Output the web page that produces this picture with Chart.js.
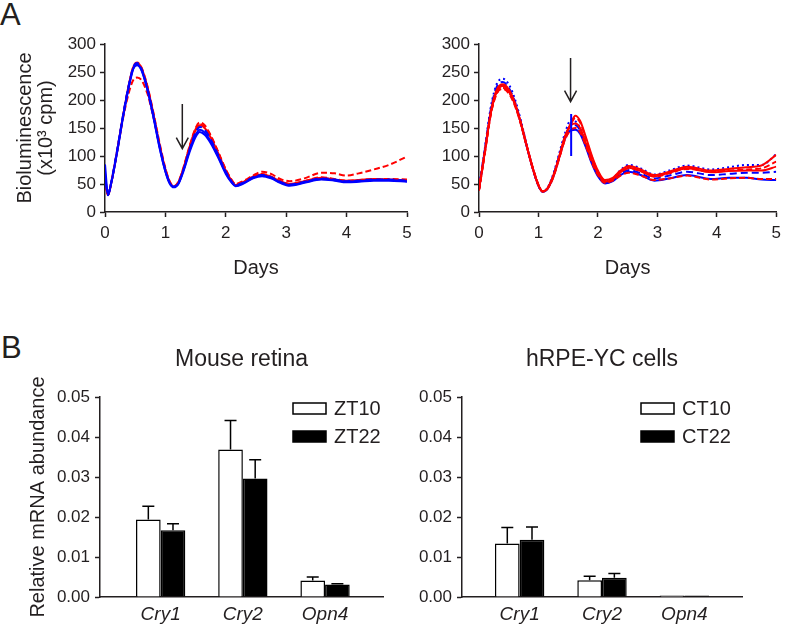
<!DOCTYPE html>
<html lang="en">
<head>
<meta charset="UTF-8" />
<title>Bioluminescence rhythms and Cry mRNA</title>
<script src="https://cdn.jsdelivr.net/npm/chart.js@4"></script>
<style>
  body { margin: 0; background: #fff; }
  #fig { position: relative; width: 787px; height: 626px; overflow: hidden;
         font-family: 'Liberation Sans', Arial, sans-serif; color: #231f20; }
  #fig canvas { position: absolute; }
  .tag { position: absolute; font-size: 31px; line-height: 1; }
</style>
</head>
<body>
<div id="fig">
  <div class="tag" style="left:0px;top:-1px">A</div>
  <div class="tag" style="left:1px;top:332px">B</div>
  <canvas id="bioLeft" width="420" height="290" style="left:0;top:0"></canvas>
  <canvas id="bioRight" width="367" height="290" style="left:420px;top:0"></canvas>
  <canvas id="mrnaRetina" width="400" height="326" style="left:0;top:300px"></canvas>
  <canvas id="mrnaCells" width="387" height="326" style="left:400px;top:300px"></canvas>
</div>

<script>
  // ---- panel A, left: bioluminescence traces (x10^3 cpm) ----
  const daysLeft = [0, 0.05, 0.1, 0.2, 0.3, 0.4, 0.47, 0.53, 0.6, 0.7, 0.8, 0.9, 1.0, 1.07, 1.14, 1.22, 1.3, 1.4, 1.5, 1.57,
                    1.65, 1.75, 1.87, 2.0, 2.1, 2.16, 2.3, 2.45, 2.6, 2.75, 2.9, 3.06, 3.3, 3.58, 3.8, 4.0, 4.2, 4.45, 4.7, 5.0];
  const leftBlue1 = [60, 31, 50, 108, 172, 228, 257, 264, 255, 220, 172, 118, 73, 52, 45, 52, 75, 110, 138, 147,
                     142, 126, 100, 70, 53, 47, 52, 61, 65, 61, 53, 48, 53, 59, 57, 54, 55, 57, 57, 55];
  const leftBlue2 = [85, 32, 50, 106, 170, 226, 256, 262, 254, 219, 170, 116, 72, 51, 44, 51, 73, 107, 134, 143,
                     138, 123, 98, 68, 52, 46, 51, 60, 64, 60, 52, 47, 52, 58, 56, 53, 54, 56, 56, 54];
  const leftBlue3 = [70, 30, 52, 110, 174, 230, 259, 266, 257, 222, 174, 120, 75, 53, 45, 53, 76, 112, 142, 152,
                     147, 130, 103, 72, 54, 48, 53, 62, 66, 62, 54, 49, 54, 60, 58, 55, 56, 58, 58, 56];
  const leftRed1 = [55, 30, 50, 108, 172, 229, 259, 266, 258, 224, 176, 122, 76, 54, 45, 54, 78, 115, 146, 155,
                    150, 133, 106, 74, 55, 48, 54, 63, 67, 63, 55, 50, 55, 61, 58, 56, 57, 59, 58, 57];
  const leftRed2 = [50, 31, 51, 109, 173, 230, 260, 267, 259, 226, 178, 125, 78, 55, 46, 55, 80, 118, 150, 160,
                    155, 137, 108, 75, 56, 48, 54, 63, 68, 63, 55, 50, 55, 62, 59, 56, 57, 59, 59, 58];
  const leftRed3 = [55, 31, 50, 107, 168, 215, 236, 240, 236, 212, 170, 120, 75, 53, 45, 54, 78, 116, 148, 157,
                    152, 136, 108, 76, 57, 50, 56, 65, 72, 68, 59, 55, 60, 70, 69, 65, 69, 76, 84, 99];

  // ---- panel A, right ----
  const daysRight = [0, 0.1, 0.2, 0.3, 0.4, 0.5, 0.6, 0.7, 0.8, 0.9, 1.0, 1.07, 1.15, 1.25, 1.35, 1.45, 1.55, 1.62, 1.7, 1.8,
                     1.9, 2.0, 2.12, 2.25, 2.38, 2.52, 2.7, 2.95, 3.2, 3.5, 3.9, 4.2, 4.5, 4.75, 5.0];
  const rightRed1 = [40, 108, 177, 215, 225, 216, 194, 160, 119, 80, 48, 37, 42, 64, 98, 135, 160, 172, 163, 133,
                     100, 74, 57, 61, 74, 82, 77, 66, 72, 81, 74, 77, 80, 83, 102];
  const rightBlue1 = [42, 115, 188, 229, 238, 228, 203, 165, 121, 80, 47, 36, 43, 68, 105, 142, 165, 162, 150, 120,
                      90, 68, 55, 60, 75, 84, 79, 67, 74, 83, 76, 80, 84, 84, 103];
  const rightRed2 = [38, 106, 175, 212, 222, 214, 193, 160, 120, 81, 49, 37, 41, 62, 96, 132, 158, 168, 160, 130,
                     98, 72, 56, 59, 71, 78, 74, 63, 69, 77, 72, 74, 76, 78, 90];
  const rightRed3 = [40, 110, 180, 219, 228, 219, 196, 161, 119, 79, 47, 36, 42, 65, 100, 136, 155, 158, 150, 122,
                     92, 69, 54, 58, 71, 79, 74, 64, 70, 78, 71, 73, 74, 74, 81];
  const rightBlue2 = [41, 113, 184, 224, 232, 222, 198, 162, 119, 79, 47, 36, 42, 66, 101, 136, 154, 155, 146, 118,
                      89, 66, 52, 56, 68, 75, 70, 60, 65, 72, 66, 68, 70, 70, 72];
  const rightRed4 = [39, 107, 176, 212, 220, 212, 191, 158, 118, 80, 48, 37, 42, 63, 97, 130, 147, 150, 143, 117,
                     88, 66, 52, 56, 65, 70, 66, 57, 60, 65, 58, 60, 61, 59, 59];
  const rightBlue3 = [40, 110, 180, 217, 226, 217, 194, 160, 118, 79, 47, 36, 41, 63, 98, 132, 146, 147, 140, 115,
                      86, 64, 51, 55, 66, 72, 67, 56, 60, 66, 59, 61, 61, 58, 57];
  const markDay = [1.55, 1.55];
  const markLevel = [100, 175];

  const arrowDays = [1.28, 1.54];
  const arrowFrom = [193, 275];
  const arrowTo = [113, 197];

  // ---- panel B: relative mRNA abundance ----
  const genes = ['Cry1', 'Cry2', 'Opn4'];
  const retinaZT10 = [0.0194, 0.0369, 0.0041];
  const retinaZT10Err = [0.0033, 0.0072, 0.0009];
  const retinaZT22 = [0.0167, 0.0296, 0.0031];
  const retinaZT22Err = [0.0016, 0.0047, 0.0002];
  const cellsCT10 = [0.0134, 0.0042, 0.0004];
  const cellsCT10Err = [0.0040, 0.0010, 0];
  const cellsCT22 = [0.0143, 0.0048, 0.0004];
  const cellsCT22Err = [0.0032, 0.0011, 0];

  const INK = '#231f20';
  const FONT = "'Liberation Sans', Arial, sans-serif";
  Chart.defaults.font.family = FONT;
  Chart.defaults.color = INK;
  Chart.defaults.animation = false;

  const RED = '#ff0000', BLUE = '#0000ff';

  // arrow pointing down at the phase shift
  const arrowMark = {
    id: 'arrowMark',
    afterDatasetsDraw(chart, args, opts) {
      const { ctx, scales: { x, y } } = chart;
      const px = x.getPixelForValue(arrowDays[opts.i]);
      const y0 = y.getPixelForValue(arrowFrom[opts.i]);
      const y1 = y.getPixelForValue(arrowTo[opts.i]);
      ctx.save();
      ctx.strokeStyle = INK;
      ctx.lineWidth = 1.5;
      ctx.beginPath();
      ctx.moveTo(px, y0); ctx.lineTo(px, y1);
      ctx.moveTo(px - 6, y1 - 11); ctx.lineTo(px, y1); ctx.lineTo(px + 6, y1 - 11);
      ctx.stroke();
      ctx.restore();
    }
  };

  const errorBars = {
    id: 'errorBars',
    afterDatasetsDraw(chart, args, opts) {
      const { ctx } = chart;
      const y = chart.scales.y;
      chart.data.datasets.forEach((ds, di) => {
        const errs = opts.errors[di];
        chart.getDatasetMeta(di).data.forEach((bar, i) => {
          if (!errs[i]) return;
          const top = y.getPixelForValue(ds.data[i].y + errs[i]);
          ctx.save();
          ctx.strokeStyle = '#000';
          ctx.lineWidth = 1.5;
          ctx.beginPath();
          ctx.moveTo(bar.x, bar.y); ctx.lineTo(bar.x, top);
          ctx.moveTo(bar.x - 6, top); ctx.lineTo(bar.x + 6, top);
          ctx.stroke();
          ctx.restore();
        });
      });
    }
  };

  // legend drawn inside the plot, box then label
  const boxLegend = {
    id: 'boxLegend',
    afterDraw(chart, args, opts) {
      const { ctx, chartArea } = chart;
      ctx.save();
      ctx.font = '20px ' + FONT;
      ctx.textBaseline = 'middle';
      chart.data.datasets.forEach((ds, i) => {
        const x = chartArea.left + opts.left;
        const y = chartArea.top + opts.top + i * 28;
        ctx.fillStyle = ds.backgroundColor;
        ctx.fillRect(x, y, 33, 11);
        ctx.strokeStyle = '#000';
        ctx.lineWidth = 1.5;
        ctx.strokeRect(x, y, 33, 11);
        ctx.fillStyle = INK;
        ctx.fillText(ds.label, x + 41, y + 6);
      });
      ctx.restore();
    }
  };

  function axisStyle() {
    return {
      border: { display: true, color: INK, width: 1.5 },
      grid: { drawOnChartArea: false, drawTicks: true, tickLength: 5, tickColor: INK, tickWidth: 1.5 }
    };
  }

  function traceSet(days, values, color, dash) {
    return {
      data: values.map((v, i) => ({ x: days[i], y: v })),
      borderColor: color,
      borderDash: dash,
      borderWidth: 2,
      pointRadius: 0,
      fill: false,
      cubicInterpolationMode: 'monotone'
    };
  }

  function bioChart(id, datasets, yWidth, yTitle, padRight, arrowIndex) {
    return new Chart(document.getElementById(id), {
      type: 'line',
      data: { datasets },
      plugins: [arrowMark],
      options: {
        responsive: false,
        layout: { padding: { top: 44, right: padRight, left: 0, bottom: 0 } },
        plugins: { legend: { display: false }, tooltip: { enabled: false }, arrowMark: { i: arrowIndex } },
        scales: {
          x: {
            type: 'linear', min: 0, max: 5,
            ...axisStyle(),
            ticks: { stepSize: 1, padding: 6, font: { size: 17 } },
            title: { display: true, text: 'Days', font: { size: 20 }, padding: { bottom: 10, top: 0 } },
            afterFit: s => { s.height = 78; }
          },
          y: {
            min: 0, max: 300,
            ...axisStyle(),
            ticks: { stepSize: 50, padding: 4, font: { size: 17 } },
            title: { display: !!yTitle, text: yTitle, font: { size: 20, lineHeight: 1.05 }, padding: { top: 15, bottom: 0 } },
            afterFit: s => { s.width = yWidth; }
          }
        }
      }
    });
  }

  bioChart('bioLeft', [
    traceSet(daysLeft, leftBlue1, BLUE, []),
    traceSet(daysLeft, leftBlue2, BLUE, []),
    traceSet(daysLeft, leftBlue3, BLUE, [7, 4]),
    traceSet(daysLeft, leftRed1, RED, []),
    traceSet(daysLeft, leftRed2, RED, [6, 3]),
    traceSet(daysLeft, leftRed3, RED, [6, 3])
  ], 105, ['Bioluminescence', '(x10\u00B3 cpm)'], 13, 0);

  bioChart('bioRight', [
    traceSet(markDay, markLevel, BLUE, []),
    traceSet(daysRight, rightRed1, RED, []),
    traceSet(daysRight, rightRed2, RED, [6, 3]),
    traceSet(daysRight, rightRed3, RED, []),
    traceSet(daysRight, rightRed4, RED, [6, 3]),
    traceSet(daysRight, rightBlue1, BLUE, [2, 3]),
    traceSet(daysRight, rightBlue2, BLUE, [7, 4]),
    traceSet(daysRight, rightBlue3, BLUE, [])
  ], 59, '', 6, 1);

  function barSet(label, values, fill) {
    return {
      label,
      data: values.map((v, i) => ({ x: i + 1, y: v })),
      backgroundColor: fill,
      borderColor: '#000',
      borderWidth: 1.5,
      categoryPercentage: 0.6,
      barPercentage: 1
    };
  }

  function mrnaChart(id, title, sets, errors, xMin, xMax, yWidth, yTitle, padRight, legendLeft) {
    return new Chart(document.getElementById(id), {
      type: 'bar',
      data: { datasets: sets },
      plugins: [errorBars, boxLegend],
      options: {
        responsive: false,
        layout: { padding: { top: 0, right: padRight, left: 0, bottom: 0 } },
        plugins: {
          legend: { display: false },
          tooltip: { enabled: false },
          title: { display: true, text: title, fullSize: false, font: { size: 23, weight: 'normal', lineHeight: 1.2 },
                   color: INK, padding: { top: 46, bottom: 23.4 } },
          errorBars: { errors },
          boxLegend: { left: legendLeft, top: 6 }
        },
        scales: {
          x: {
            type: 'linear', min: xMin, max: xMax, offset: false,
            border: { display: true, color: INK, width: 1.5 },
            grid: { display: false, drawTicks: false, offset: false },
            afterBuildTicks: s => { s.ticks = genes.map((g, i) => ({ value: i + 1 })); },
            ticks: { padding: 6, font: { size: 19, style: 'italic' }, callback: v => genes[v - 1] },
            afterFit: s => { s.height = 29; }
          },
          y: {
            min: 0, max: 0.05,
            ...axisStyle(),
            ticks: { stepSize: 0.01, padding: 5, font: { size: 17 }, callback: v => v.toFixed(2) },
            title: { display: !!yTitle, text: yTitle, font: { size: 20 }, padding: { top: 26, bottom: 0 } },
            afterFit: s => { s.width = yWidth; }
          }
        }
      }
    });
  }

  mrnaChart('mrnaRetina', 'Mouse retina',
    [barSet('ZT10', retinaZT10, '#ffffff'), barSet('ZT22', retinaZT22, '#000000')],
    [retinaZT10Err, retinaZT22Err], 0.262, 3.705, 100, 'Relative mRNA abundance', 17, 193);

  mrnaChart('mrnaCells', 'hRPE-YC cells',
    [barSet('CT10', cellsCT10, '#ffffff'), barSet('CT22', cellsCT22, '#000000')],
    [cellsCT10Err, cellsCT22Err], 0.30, 3.70, 62, '', 45, 179);
</script>
</body>
</html>
